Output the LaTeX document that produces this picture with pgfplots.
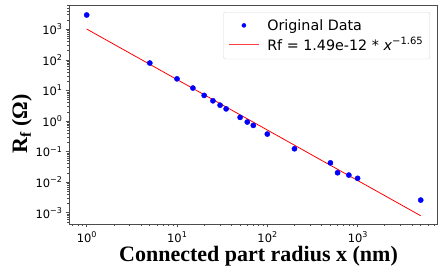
\documentclass[border=0pt]{standalone}
\usepackage{pgfplots}
\pgfplotsset{compat=1.18}
\usepackage{fontspec}
\setmainfont{Liberation Serif}
\newfontfamily\dejavu{DejaVu Sans}
\newcommand{\tl}[1]{{\dejavu 10\raisebox{0.42em}{\fontsize{8}{8}\selectfont #1}}}
\pgfplotsset{
  dotlegend/.style={legend image code/.code={\draw[mark repeat=2,mark phase=2,##1,mark size=2pt] plot coordinates {(0pt,0pt) (15pt,0pt) (30pt,0pt)};}},
  linelegend/.style={legend image code/.code={\draw[##1,red!75] (0pt,0pt) -- (30pt,0pt);}},
}
\begin{document}
\begin{tikzpicture}
\begin{axis}[
  scale only axis, width=368pt, height=219pt,
  xmode=log, ymode=log,
  xmin=0.637, xmax=7570, ymin=4.3e-4, ymax=6240,
  axis line style={black!70, line width=0.8pt},
  tick style={black!70, line width=0.7pt},
  tick align=outside, xtick pos=bottom, ytick pos=left,
  major tick length=3.5pt, minor tick length=2pt,
  xtick={1,10,100,1000},
  xticklabels={\tl{0},\tl{1},\tl{2},\tl{3}},
  minor xtick={0.7,0.8,0.9,2,3,4,5,6,7,8,9,20,30,40,50,60,70,80,90,200,300,400,500,600,700,800,900,2000,3000,4000,5000,6000,7000},
  ytick={1e-3,1e-2,1e-1,1,10,100,1000},
  yticklabels={\tl{−3},\tl{−2},\tl{−1},\tl{0},\tl{1},\tl{2},\tl{3}},
  minor ytick={5e-4,6e-4,7e-4,8e-4,9e-4,2e-3,3e-3,4e-3,5e-3,6e-3,7e-3,8e-3,9e-3,2e-2,3e-2,4e-2,5e-2,6e-2,7e-2,8e-2,9e-2,0.2,0.3,0.4,0.5,0.6,0.7,0.8,0.9,2,3,4,5,6,7,8,9,20,30,40,50,60,70,80,90,200,300,400,500,600,700,800,900,2000,3000,4000,5000,6000},
  ticklabel style={font=\fontsize{11.5}{13}\selectfont},
  xticklabel style={yshift=-1pt},
  xlabel={\textbf{Connected part radius x (nm)}},
  xlabel style={at={(axis description cs:0.515,0)}, anchor=base, yshift=-37.7pt, font=\fontsize{22}{24}\selectfont},
  ylabel={\textbf{R\textsubscript{f} (Ω)}},
  ylabel style={at={(axis description cs:-0.128,0.457)}, anchor=center, font=\fontsize{22}{24}\selectfont},
  legend style={at={(axis description cs:0.981,0.968)}, anchor=north east,
    draw=black!15, rounded corners=2pt, fill=white,
    font=\dejavu\fontsize{14.3}{17}\selectfont, row sep=1.5pt,
    inner xsep=5pt, inner ysep=5pt,
    /tikz/every odd column/.append style={column sep=6pt}},
  legend cell align=left,
]
\addplot[only marks, mark=*, mark size=2.6pt, color=blue, dotlegend]
coordinates {
(1,2940) (5,79) (10,24) (15,12) (20,6.9) (25,4.6) (30,3.3) (35,2.5)
(50,1.32) (60,0.93) (70,0.72) (100,0.376) (200,0.124) (500,0.043)
(600,0.0204) (800,0.0171) (1000,0.0134) (5000,0.0026)
};
\addlegendentry{Original Data}
\addplot[red, line width=0.8pt, no marks, linelegend]
coordinates {(1,1020) (5000,8.0e-4)};
\addlegendentry{Rf = 1.49e-12 * \textit{x}\raisebox{0.42em}{\fontsize{10}{10}\selectfont −1.65}}
\end{axis}
\pgfresetboundingbox
\path ([shift={(-69pt,-52pt)}]current axis.south west) rectangle ([shift={(5pt,5pt)}]current axis.north east);
\end{tikzpicture}
\end{document}
